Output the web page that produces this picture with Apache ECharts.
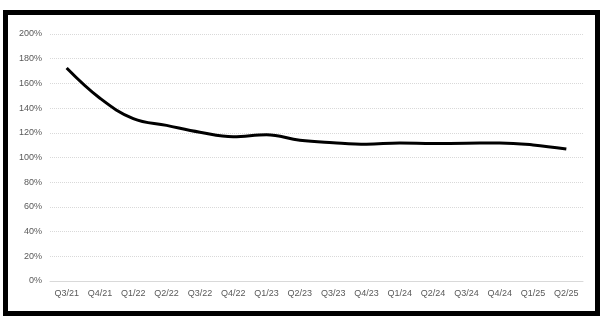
<!DOCTYPE html>
<html>
<head>
<meta charset="utf-8">
<script src="https://cdn.jsdelivr.net/npm/echarts@6/dist/echarts.min.js"></script>
<style>
html,body{margin:0;padding:0;background:#fff;}
#wrap{position:relative;width:612px;height:324px;}
#chart{position:absolute;left:0;top:0;width:612px;height:324px;}
#frame{position:absolute;left:3px;top:10px;width:587px;height:296px;border:5px solid #000;pointer-events:none;}
</style>
</head>
<body>
<div id="wrap"><div id="chart"></div><div id="frame"></div></div>
<script>
const categories = ["Q3/21","Q4/21","Q1/22","Q2/22","Q3/22","Q4/22","Q1/23","Q2/23","Q3/23","Q4/23","Q1/24","Q2/24","Q3/24","Q4/24","Q1/25","Q2/25"];
const values = [172.5, 148, 131.5, 126, 120.5, 116.8, 118.5, 114, 112, 110.8, 111.7, 111.3, 111.5, 111.8, 110.2, 106.8];
const yTicks = [0, 20, 40, 60, 80, 100, 120, 140, 160, 180, 200];

const chart = echarts.init(document.getElementById('chart'), null, {renderer: 'canvas'});
chart.setOption({
  animation: false,
  grid: {left: 50, right: 29, top: 34, bottom: 43},
  xAxis: {
    type: 'category',
    data: categories,
    boundaryGap: true,
    axisLine: {show: true, lineStyle: {color: '#d9d9d9', width: 1}},
    axisTick: {show: false},
    axisLabel: {color: '#595959', fontSize: 9, fontFamily: 'Liberation Sans, Arial, sans-serif', margin: 8, interval: 0}
  },
  yAxis: {
    type: 'value',
    min: yTicks[0],
    max: yTicks[yTicks.length - 1],
    interval: 20,
    axisLine: {show: false},
    axisTick: {show: false},
    axisLabel: {color: '#595959', fontSize: 9, fontFamily: 'Liberation Sans, Arial, sans-serif', margin: 8, formatter: v => v + '%'},
    splitLine: {show: true, lineStyle: {color: '#d9d9d9', type: [1, 1], width: 1}}
  },
  series: [{
    type: 'line',
    data: values,
    smooth: 0.4,
    symbol: 'none',
    lineStyle: {color: '#000', width: 3}
  }]
});
</script>
</body>
</html>
